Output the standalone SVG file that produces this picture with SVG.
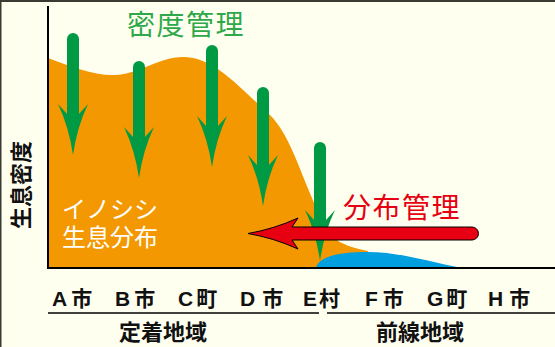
<svg xmlns="http://www.w3.org/2000/svg" width="555" height="347" viewBox="0 0 555 347">
<defs>
<style>
.bg{fill:#FFFFEF}
.frame{fill:#3b3a33}
.axis{stroke:#000;stroke-width:2;fill:none}
.uline{stroke:#000;stroke-width:1.5;fill:none}
.shaft{stroke:#009944;stroke-width:12;stroke-linecap:round}
.head{fill:#009944}
.lbl{font-family:"Liberation Sans","Noto Sans CJK JP",sans-serif;font-weight:bold;font-size:21px;fill:#111}
.zone{font-family:"Noto Sans CJK JP",sans-serif;font-weight:bold;font-size:22px;fill:#111}
.ttl{font-family:"Noto Sans CJK JP",sans-serif;font-size:28px;letter-spacing:1.5px}
.wht{font-family:"Noto Sans CJK JP",sans-serif;font-size:24px;fill:#fff}
</style>
<path id="ghead" d="M0,0 Q-4,-28 -15,-51 L-6,-41 L6,-41 L15,-51 Q4,-28 0,0 Z"/>
</defs>
<rect class="bg" x="0" y="0" width="555" height="347"/>
<rect class="frame" x="0" y="0" width="555" height="2"/>
<rect class="frame" x="0" y="0" width="1.5" height="347"/>

<g id="distribution">
<path d="M48,58 C70,66 95,76 115,75 C140,74 160,56 185,57 C215,58 240,88 270,115 C288,133 298,165 312,198 C322,222 330,238 342,243 C350,247 358,249 368,251 L368,268 L48,268 Z" fill="#F39800"/>
<path d="M316,268 C318,258 335,252 367,252 C400,252 430,262 462,268 Z" fill="#00A0E0"/>
</g>

<g id="axes">
<line class="axis" x1="48" y1="6" x2="48" y2="268"/>
<line class="axis" x1="47" y1="268" x2="555" y2="268"/>
</g>

<g id="connectors">
<g id="density-arrows">
<line class="shaft" x1="73" y1="39" x2="73" y2="115"/><use href="#ghead" class="head" x="73" y="155"/>
<line class="shaft" x1="139" y1="67" x2="139" y2="138"/><use href="#ghead" class="head" x="139" y="178"/>
<line class="shaft" x1="212" y1="51" x2="212" y2="127"/><use href="#ghead" class="head" x="212" y="167"/>
<line class="shaft" x1="263" y1="93" x2="263" y2="166"/><use href="#ghead" class="head" x="263" y="206"/>
<line class="shaft" x1="320" y1="148" x2="320" y2="221"/><use href="#ghead" class="head" x="320" y="261"/>
</g>
<path id="distribution-arrow" d="M248,233.5 Q274,229 298,218 L292,227 L472,227 A6.5,6.5 0 0 1 472,240 L292,240 L298,249 Q274,238 248,233.5 Z" fill="#E60012" stroke="#000" stroke-width="1"/>
</g>

<g id="title-density"><text class="ttl" x="127" y="35" fill="#2EA84A">密度管理</text></g>
<g id="title-distribution"><text class="ttl" x="343" y="218" fill="#E60012">分布管理</text></g>
<g id="boar-label">
<text class="wht" x="62" y="218">イノシシ</text>
<text class="wht" x="62" y="246">生息分布</text>
</g>
<g id="y-label"><text class="zone" transform="translate(29,185) rotate(-90)" text-anchor="middle" font-size="21">生息密度</text></g>

<g id="places">
<text class="lbl" x="52" y="306">A<tspan dx="4">市</tspan></text>
<text class="lbl" x="115" y="306">B<tspan dx="4">市</tspan></text>
<text class="lbl" x="178" y="306">C<tspan dx="3">町</tspan></text>
<text class="lbl" x="240" y="306">D<tspan dx="7">市</tspan></text>
<text class="lbl" x="303" y="306">E<tspan dx="2">村</tspan></text>
<text class="lbl" x="365" y="306">F<tspan dx="5">市</tspan></text>
<text class="lbl" x="427" y="306">G<tspan dx="3">町</tspan></text>
<text class="lbl" x="488" y="306">H<tspan dx="6">市</tspan></text>
</g>
<g id="zones">
<line class="uline" x1="48" y1="313" x2="319" y2="313"/>
<line class="uline" x1="327" y1="313" x2="555" y2="313"/>
<text class="zone" x="163" y="340" text-anchor="middle">定着地域</text>
<text class="zone" x="420" y="340" text-anchor="middle">前線地域</text>
</g>
</svg>
